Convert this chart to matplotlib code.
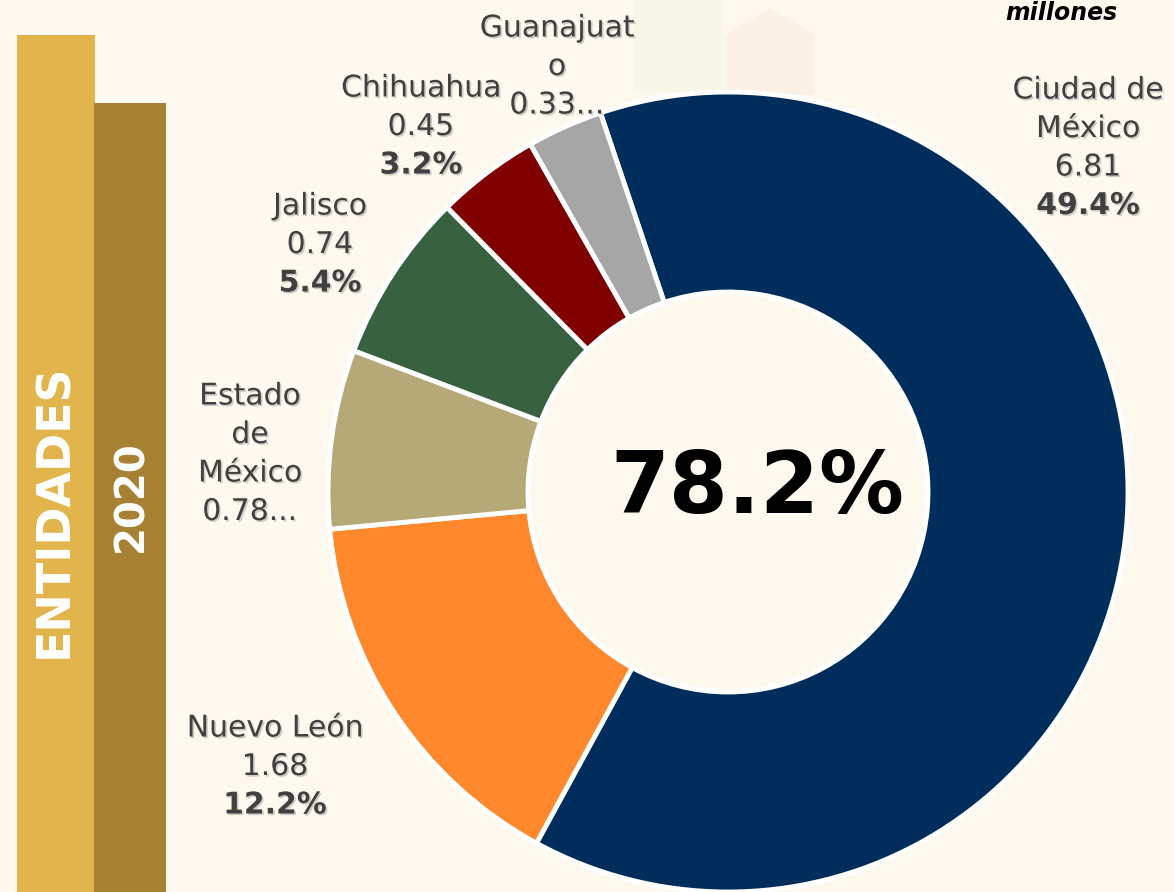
import matplotlib.pyplot as plt
import matplotlib.patheffects as pe
from matplotlib.patches import Rectangle, Polygon

# datos (millones de personas, 2020)
entidades = ["Ciudad de México", "Nuevo León", "Estado de México", "Jalisco", "Chihuahua", "Guanajuato"]
valores = [6.81, 1.68, 0.78, 0.74, 0.45, 0.33]
porcentajes = ["49.4%", "12.2%", "", "5.4%", "3.2%", ""]
etiquetas_nombre = [["Ciudad de", "México"], ["Nuevo León"], ["Estado", "de", "México"],
                    ["Jalisco"], ["Chihuahua"], ["Guanajuat", "o"]]
etiquetas_valor = ["6.81", "1.68", "0.78...", "0.74", "0.45", "0.33..."]
colores = ["#002D5B", "#FF882D", "#B5A978", "#386140", "#800000", "#A6A6A6"]
total_texto = "78.2%"

fondo = "#FDF9EE"
gris = "#404040"

W, H = 1174, 892
fig = plt.figure(figsize=(W / 100, H / 100), dpi=100, facecolor=fondo)

# barras decorativas a la izquierda
deco = fig.add_axes([0, 0, 1, 1])
deco.set_xlim(0, W)
deco.set_ylim(H, 0)
deco.axis("off")
deco.add_patch(Rectangle((17, 35), 78, H - 35, color="#E2B44C", lw=0))
deco.add_patch(Rectangle((94, 103), 72, H - 103, color="#A68033", lw=0))
# marca de agua tenue
deco.add_patch(Rectangle((633, 0), 90, 92, color="#EDF1E2", alpha=0.35, lw=0))
deco.add_patch(Polygon([(725, 35), (770, 8), (815, 35), (815, 95), (725, 95)],
                       closed=True, color="#F9E6D6", alpha=0.35, lw=0))
deco.text(55, 511, "ENTIDADES", rotation=90, color="white", fontsize=33,
          fontweight="bold", ha="center", va="center")
deco.text(131, 496, "2020", rotation=90, color="white", fontsize=29,
          fontweight="bold", ha="center", va="center")
deco.text(1061, 13, "millones", color="black", fontsize=17, fontweight="bold",
          fontstyle="italic", ha="center", va="center")

# dona
cx, cy, r = 728, 492, 400
ax = fig.add_axes([(cx - r) / W, (H - cy - r) / H, 2 * r / W, 2 * r / H])
ax.pie(valores, colors=colores, startangle=108.6, counterclock=False, radius=1,
       wedgeprops=dict(width=0.5, edgecolor="white", linewidth=3.5))
ax.set_xlim(-1, 1)
ax.set_ylim(-1, 1)
ax.axis("off")

ax.text((757 - cx) / r, (cy - 489) / r, total_texto, fontsize=61, fontweight="bold",
        color="black", ha="center", va="center")

# posiciones de las etiquetas (centro x, y de la primera línea) en píxeles
pos_etiquetas = [(1088, 90), (275, 728), (250, 396), (320, 206), (421, 88), (557, 28)]
paso = 38.5
sombra = [pe.withSimplePatchShadow(offset=(1.2, -1.2), shadow_rgbFace="#000000", alpha=0.18)]

for i in range(len(entidades)):
    px, py = pos_etiquetas[i]
    lineas = [(t, "normal") for t in etiquetas_nombre[i]]
    lineas.append((etiquetas_valor[i], "normal"))
    if porcentajes[i]:
        lineas.append((porcentajes[i], "bold"))
    for k, (t, peso) in enumerate(lineas):
        ax.text((px - cx) / r, (cy - (py + k * paso)) / r, t, fontsize=21.5,
                fontweight=peso, color=gris, ha="center", va="center",
                path_effects=sombra, clip_on=False)

fig.savefig("out.png", dpi=100, facecolor=fondo)
